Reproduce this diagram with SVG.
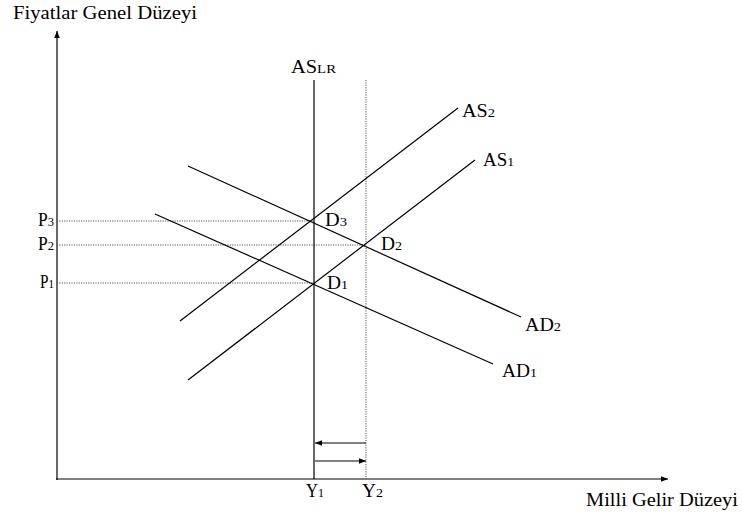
<svg xmlns="http://www.w3.org/2000/svg" width="742" height="516" viewBox="0 0 742 516">
<style>
text{font-family:"Liberation Serif","Times New Roman",serif;font-size:18px;fill:#000}
.sub{font-size:13px}
.ln{stroke:#000;stroke-width:1.2;fill:none}
.dot{stroke:#555;stroke-width:1;stroke-dasharray:1.2 1.2;fill:none}
</style>
<defs>
<marker id="ah" viewBox="0 0 10 10" refX="10" refY="5" markerWidth="7" markerHeight="7" markerUnits="userSpaceOnUse" orient="auto">
<path d="M0,1 L10,5 L0,9 Z" fill="#000"/>
</marker>
</defs>
<rect width="742" height="516" fill="#fff"/>
<g id="connectors">
<line class="ln" x1="57" y1="480" x2="57" y2="31" stroke-width="1.5" marker-end="url(#ah)"/>
<line class="ln" x1="56" y1="479" x2="668" y2="479" stroke-width="1.5" marker-end="url(#ah)"/>
<line class="dot" x1="57" y1="221" x2="314" y2="221"/>
<line class="dot" x1="57" y1="245" x2="366" y2="245"/>
<line class="dot" x1="57" y1="283" x2="314" y2="283"/>
<line class="dot" x1="366" y1="80" x2="366" y2="479"/>
<line class="ln" x1="314" y1="80" x2="314" y2="479" stroke-width="2.5"/>
<line class="ln" x1="180" y1="321" x2="458" y2="108"/>
<line class="ln" x1="188" y1="380" x2="475" y2="160"/>
<line class="ln" x1="188" y1="166" x2="521" y2="317"/>
<line class="ln" x1="155" y1="214" x2="493" y2="364"/>
<line class="ln" x1="366" y1="443" x2="315" y2="443" marker-end="url(#ah)"/>
<line class="ln" x1="315" y1="461" x2="366" y2="461" marker-end="url(#ah)"/>
</g>
<g id="axis-y-label"><text x="13" y="19" textLength="184" lengthAdjust="spacingAndGlyphs">Fiyatlar Genel Düzeyi</text></g>
<g id="axis-x-label"><text x="586" y="506" textLength="152" lengthAdjust="spacingAndGlyphs">Milli Gelir Düzeyi</text></g>
<g id="ASLR"><text x="291" y="73" textLength="45" lengthAdjust="spacingAndGlyphs">AS<tspan class="sub">LR</tspan></text></g>
<g id="AS2"><text x="462" y="117" textLength="33" lengthAdjust="spacingAndGlyphs">AS<tspan class="sub">2</tspan></text></g>
<g id="AS1"><text x="483" y="166" textLength="31" lengthAdjust="spacingAndGlyphs">AS<tspan class="sub">1</tspan></text></g>
<g id="AD2"><text x="525" y="331" textLength="36" lengthAdjust="spacingAndGlyphs">AD<tspan class="sub">2</tspan></text></g>
<g id="AD1"><text x="502" y="377" textLength="35" lengthAdjust="spacingAndGlyphs">AD<tspan class="sub">1</tspan></text></g>
<g id="D3"><text x="325" y="226" textLength="22" lengthAdjust="spacingAndGlyphs">D<tspan class="sub">3</tspan></text></g>
<g id="D2"><text x="381" y="250" textLength="21" lengthAdjust="spacingAndGlyphs">D<tspan class="sub">2</tspan></text></g>
<g id="D1"><text x="327" y="289" textLength="21" lengthAdjust="spacingAndGlyphs">D<tspan class="sub">1</tspan></text></g>
<g id="P3"><text x="38" y="226" textLength="16" lengthAdjust="spacingAndGlyphs">P<tspan class="sub">3</tspan></text></g>
<g id="P2"><text x="38" y="250" textLength="16" lengthAdjust="spacingAndGlyphs">P<tspan class="sub">2</tspan></text></g>
<g id="P1"><text x="40" y="288" textLength="14" lengthAdjust="spacingAndGlyphs">P<tspan class="sub">1</tspan></text></g>
<g id="Y1"><text x="306" y="497" textLength="18" lengthAdjust="spacingAndGlyphs">Y<tspan class="sub">1</tspan></text></g>
<g id="Y2"><text x="362" y="497" textLength="21" lengthAdjust="spacingAndGlyphs">Y<tspan class="sub">2</tspan></text></g>
</svg>
